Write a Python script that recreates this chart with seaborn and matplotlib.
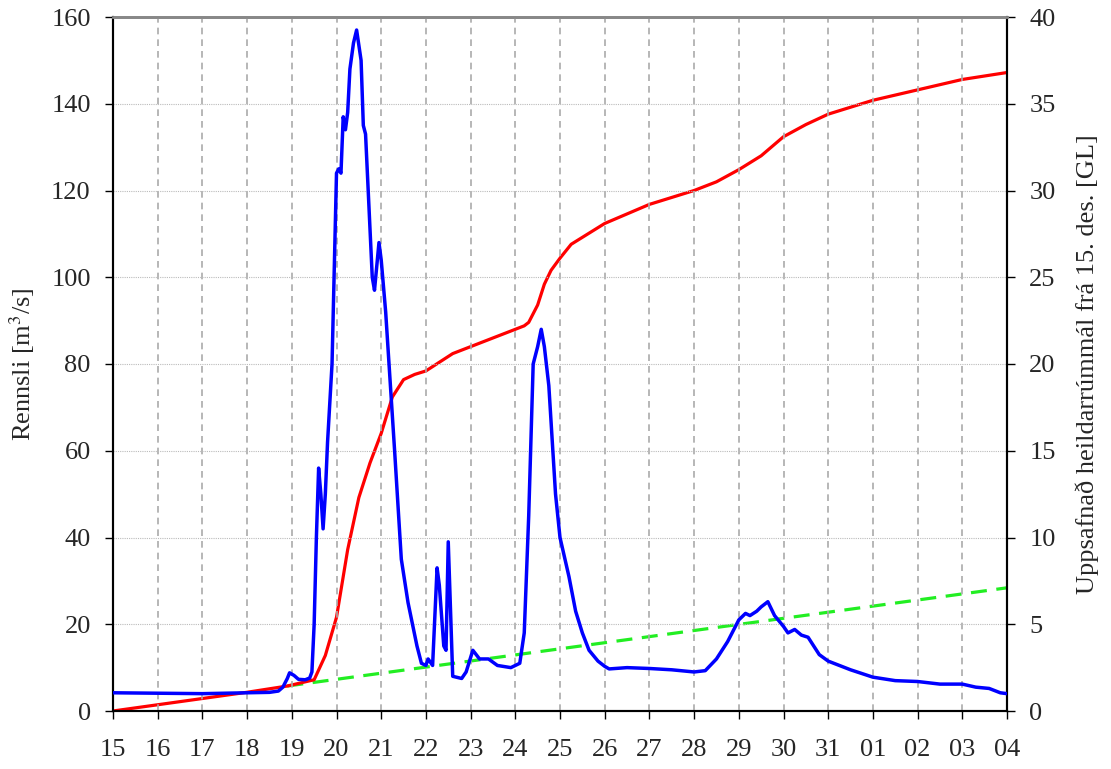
import numpy as np
import pandas as pd
import matplotlib
matplotlib.use("Agg")
import matplotlib.pyplot as plt
import seaborn as sns

# ---- data (x = days since 15 Dec) ----
flow_t = [0, 1, 2, 3, 3.5, 3.7, 3.8, 3.9, 3.95, 4.05,
          4.15, 4.3, 4.4, 4.45, 4.5, 4.55, 4.6, 4.65, 4.7, 4.75,
          4.8, 4.9, 5.0, 5.05, 5.1, 5.15, 5.2, 5.25, 5.3, 5.38,
          5.45, 5.55, 5.6, 5.65, 5.8, 5.85, 5.95, 6.0, 6.1, 6.3,
          6.45, 6.6, 6.8, 6.9, 7.0, 7.05, 7.15, 7.25, 7.3, 7.4,
          7.45, 7.5, 7.6, 7.8, 7.9, 8.05, 8.2, 8.4, 8.6, 8.9,
          9.1, 9.2, 9.3, 9.4, 9.5, 9.58, 9.65, 9.75, 9.9, 10.0,
          10.2, 10.35, 10.5, 10.65, 10.85, 11.0, 11.1, 11.5, 12.0, 12.5,
          13.0, 13.25, 13.5, 13.75, 14.0, 14.15, 14.25, 14.4, 14.5, 14.65,
          14.8, 15.0, 15.1, 15.25, 15.4, 15.55, 15.8, 16.0, 16.5, 17.0,
          17.5, 18.0, 18.5, 19.0, 19.3, 19.6, 19.85, 20.0]
flow_q = [4.2, 4.1, 4.0, 4.2, 4.3, 4.6, 5.5, 7.5, 8.8, 8.2,
          7.3, 7.2, 7.6, 9.0, 20, 40, 56, 50, 42, 50,
          62, 80, 124, 125, 124, 137, 134, 138, 148, 154,
          157, 150, 135, 133, 100, 97, 108, 104, 92, 60,
          35, 25, 15, 11, 10.5, 12, 10.5, 33, 29, 15,
          14, 39, 8, 7.5, 9, 14, 12, 12, 10.5, 10,
          11, 18, 45, 80, 84, 88, 84, 75, 50, 40,
          31, 23, 18, 14, 11.5, 10.3, 9.7, 10, 9.8, 9.5,
          9.0, 9.3, 12, 16, 21, 22.5, 22, 23, 24, 25.2,
          22, 19.5, 18, 18.8, 17.5, 17, 13, 11.5, 9.5, 7.8,
          7.0, 6.8, 6.2, 6.2, 5.5, 5.2, 4.2, 4.0]

vol_t = [0, 1, 2, 3, 3.9, 4.5, 4.75, 5.0, 5.25, 5.5,
         5.75, 6.0, 6.25, 6.5, 6.75, 7.0, 7.3, 7.6, 8.0, 8.5,
         9.0, 9.2, 9.3, 9.5, 9.65, 9.8, 10.0, 10.25, 10.5, 11.0,
         12.0, 13.0, 13.5, 14.0, 14.5, 15.0, 15.5, 16.0, 17.0, 18.0,
         19.0, 20.0]
vol_gl = [0, 0.36, 0.72, 1.08, 1.44, 1.8, 3.2, 5.4, 9.3, 12.3,
          14.3, 16.0, 18.1, 19.1, 19.4, 19.6, 20.1, 20.6, 21.0, 21.5,
          22.0, 22.2, 22.4, 23.4, 24.6, 25.4, 26.1, 26.9, 27.3, 28.1,
          29.2, 30.0, 30.5, 31.2, 32.0, 33.1, 33.8, 34.4, 35.2, 35.8,
          36.4, 36.8]

base_t = [3.9, 20.0]
base_gl = [1.44, 7.1]

day_labels = ["15", "16", "17", "18", "19", "20", "21", "22", "23", "24", "25", "26",
              "27", "28", "29", "30", "31", "01", "02", "03", "04"]

sns.set_theme(style="white")
plt.rcParams["font.family"] = ["Liberation Serif", "DejaVu Serif"]
plt.rcParams["mathtext.fontset"] = "stix"

fig = plt.figure(figsize=(11.11, 7.69), dpi=100)
ax = fig.add_axes([113/1111, 1-711/769, (1007-113)/1111, (711-17)/769])
ax2 = ax.twinx()

sns.lineplot(x=vol_t, y=vol_gl, ax=ax2, color="#ff0000", lw=2.3, zorder=3)
sns.lineplot(x=base_t, y=base_gl, ax=ax2, color="#22ee22", lw=2.3, linestyle=(0, (5, 3)), zorder=2)
sns.lineplot(x=flow_t, y=flow_q, ax=ax, color="#0000ff", lw=2.5, zorder=4)

ax.set_zorder(ax2.get_zorder() + 1)
ax.patch.set_visible(False)

ax.set_xlim(0, 20)
ax.set_ylim(0, 160)
ax2.set_ylim(0, 40)
ax.set_xticks(range(21))
ax.set_xticklabels(day_labels)
ax.set_yticks(range(0, 161, 20))
ax2.set_yticks(range(0, 41, 5))

for x in range(1, 20):
    ax.axvline(x, color="#aaaaaa", lw=1.2, ls=(0, (4, 3)), zorder=0)
for y in range(20, 160, 20):
    ax.axhline(y, color="#bbbbbb", lw=0.8, ls=(0, (1, 1)), zorder=0)

fs = 19
ax.tick_params(axis="both", labelsize=fs, direction="out", length=6, width=1,
               color="black", pad=10, bottom=True, left=True)
ax2.tick_params(axis="y", labelsize=fs, direction="out", length=6, width=1,
                color="black", pad=10, right=True)
ax.tick_params(axis="x", pad=14)

ax.set_ylabel(r"Rennsli [m$^3$/s]", fontsize=fs, labelpad=10)
ax2.set_ylabel("Uppsafnað heildarrúmmál frá 15. des. [GL]", fontsize=fs, labelpad=14)

for a in (ax, ax2):
    for s in ("left", "right", "bottom"):
        a.spines[s].set_color("black")
        a.spines[s].set_linewidth(1.5)
    a.spines["top"].set_color("#888888")
    a.spines["top"].set_linewidth(2)

fig.savefig("out.png", dpi=100)
